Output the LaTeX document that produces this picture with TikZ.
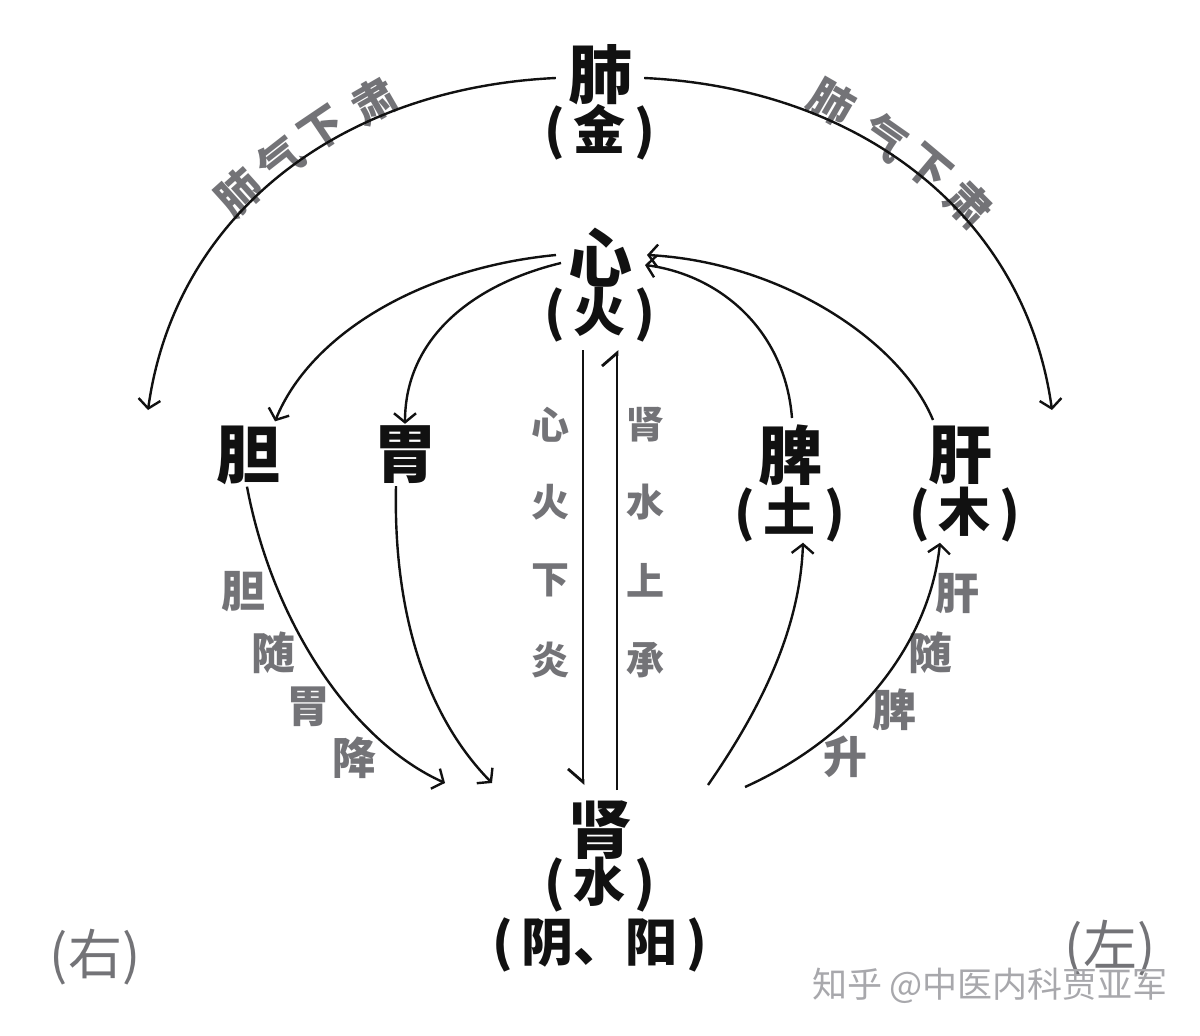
\documentclass[tikz,border=0pt]{standalone}
\usepackage{fontspec}
\newfontfamily\cjk{Noto Sans CJK SC}
\usetikzlibrary{arrows.meta}
\definecolor{ink}{HTML}{111111}
\definecolor{gr}{HTML}{737377}
\definecolor{wm}{HTML}{A8A8AC}
\tikzset{
  organ/.style={font=\cjk\bfseries\fontsize{64}{64}\selectfont, text=ink, inner sep=0pt},
  elem/.style={font=\cjk\bfseries\fontsize{52}{52}\selectfont, text=ink, inner sep=0pt},
  glabel/.style={font=\cjk\bfseries\fontsize{44}{44}\selectfont, text=gr, inner sep=0pt},
  vlabel/.style={font=\cjk\bfseries\fontsize{38}{38}\selectfont, text=gr, inner sep=0pt},
  arctext/.style={font=\cjk\bfseries\fontsize{44}{44}\selectfont, text=gr, inner sep=0pt},
  side/.style={font=\cjk\fontsize{54}{54}\selectfont, text=gr, inner sep=0pt},
  conn/.style={draw=ink, line width=2.4pt, -{Straight Barb[length=9pt,width=22pt,line width=2.4pt]}},
  flowd/.style={draw=ink, line width=2.8pt, -{Straight Barb[harpoon,swap,length=13pt,width=30pt,line width=2.8pt]}},
  flowu/.style={draw=ink, line width=2.8pt, -{Straight Barb[harpoon,length=13pt,width=30pt,line width=2.8pt]}},
}
\begin{document}
\begin{tikzpicture}[x=1pt,y=-1pt]
\fill[white] (0,0) rectangle (1200,1036);
\useasboundingbox (0,0) rectangle (1200,1036);

% organ nodes
\node[organ] (fei) at (600,75) {肺};
\node[elem] (jin) at (600,132) {(\,金\,)};
\node[organ] (xin) at (600,258) {心};
\node[elem] (huo) at (600,315) {(\,火\,)};
\node[organ] (dan) at (248,455) {胆};
\node[organ] (wei) at (405,455) {胃};
\node[organ] (pi) at (790,455) {脾};
\node[elem] (tu) at (790,515) {(\,土\,)};
\node[organ] (gan) at (960,455) {肝};
\node[elem] (mu) at (965,515) {(\,木\,)};
\node[organ] (shen) at (600,830) {肾};
\node[elem] (shui) at (600,885) {(\,水\,)};
\node[elem] (yinyang) at (600,945) {(\,阴、阳\,)};

% side labels
\node[side] (you) at (95,957) {(右)};
\node[side] (zuo) at (1110,948) {(左)};
\node[font=\cjk\fontsize{35}{35}\selectfont, text=wm, inner sep=0pt] (wmark) at (990,986) {知乎 @中医内科贾亚军};

% arc texts
\node[arctext, rotate=42] (l1) at (239,193) {肺};
\node[arctext, rotate=38] (l2) at (280,160) {气};
\node[arctext, rotate=34] (l3) at (322,130) {下};
\node[arctext, rotate=30] (l4) at (374,101) {肃};
\node[arctext, rotate=-30] (r1) at (832,102) {肺};
\node[arctext, rotate=-35] (r2) at (885,137) {气};
\node[arctext, rotate=-40] (r3) at (928,168) {下};
\node[arctext, rotate=-45] (r4) at (969,204) {肃};

% vertical labels
\node[vlabel] (v1) at (550,425) {心};
\node[vlabel] (v2) at (550,502) {火};
\node[vlabel] (v3) at (550,580) {下};
\node[vlabel] (v4) at (550,660) {炎};
\node[vlabel] (w1) at (645,425) {肾};
\node[vlabel] (w2) at (645,502) {水};
\node[vlabel] (w3) at (645,580) {上};
\node[vlabel] (w4) at (645,660) {承};

% diagonal labels
\node[glabel] (g1) at (243,592) {胆};
\node[glabel] (g2) at (273,653) {随};
\node[glabel] (g3) at (308,707) {胃};
\node[glabel] (g4) at (354,758) {降};
\node[glabel] (h1) at (957,594) {肝};
\node[glabel] (h2) at (930,653) {随};
\node[glabel] (h3) at (894,710) {脾};
\node[glabel] (h4) at (845,757) {升};

% free ends
\coordinate (leftEnd) at (148,410);
\coordinate (rightEnd) at (1052,410);
\coordinate (danEnd) at (445,783);
\coordinate (weiEnd) at (492,783);
\coordinate (piStart) at (708,785);
\coordinate (ganStart) at (745,787);

% lung descending arcs
\draw[conn] ([xshift=-12pt,yshift=-3pt]fei.west) .. controls (340,88) and (175,215) .. (leftEnd);
\draw[conn] ([xshift=12pt,yshift=-3pt]fei.east) .. controls (860,88) and (1025,215) .. (rightEnd);

% heart to gallbladder / stomach
\draw[conn] (556,255) .. controls (420,268) and (310,335) .. ([xshift=27pt,yshift=4pt]dan.north);
\draw[conn] (561,263) .. controls (470,285) and (405,340) .. ([yshift=2pt]wei.north);

% spleen / liver to heart
\draw[conn] (792,418) .. controls (785,330) and (720,275) .. (645,265);
\draw[conn] (933,420) .. controls (900,340) and (780,262) .. (647,255);

% heart fire down, kidney water up
\draw[flowd] (583,350) -- (583,785);
\draw[flowu] (617,790) -- (617,350);

% gallbladder / stomach down to kidney
\draw[conn] ([xshift=-1pt,yshift=-2pt]dan.south) .. controls (272,620) and (350,740) .. (danEnd);
\draw[conn] ([xshift=-9pt,yshift=-2pt]wei.south) .. controls (393,620) and (430,720) .. (weiEnd);

% kidney up to spleen / liver
\draw[conn] (piStart) .. controls (760,710) and (800,630) .. ([xshift=13pt]tu.south);
\draw[conn] (ganStart) .. controls (860,735) and (930,640) .. ([xshift=-25pt]mu.south);
\end{tikzpicture}
\end{document}
